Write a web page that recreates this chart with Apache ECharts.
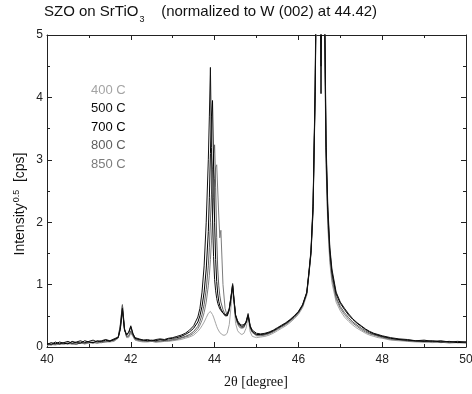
<!DOCTYPE html>
<html>
<head>
<meta charset="utf-8">
<script src="https://cdn.jsdelivr.net/npm/echarts@6/dist/echarts.min.js"></script>
<style>
html,body{margin:0;padding:0;background:#fff;}
#chart{width:472px;height:394px;}
</style>
</head>
<body>
<div id="chart"></div>
<script>
// 2theta positions (degree)
var twoTheta = [40.0,40.1,40.2,40.3,40.4,40.5,40.6,40.7,40.8,40.9,41.0,41.1,41.2,41.3,41.4,41.5,41.6,41.7,41.75,41.8,41.85,41.9,41.95,42.0,42.05,42.1,42.2,42.3,42.4,42.5,42.6,42.7,42.8,42.9,43.0,43.1,43.2,43.3,43.4,43.5,43.6,43.65,43.7,43.75,43.8,43.85,43.875,43.9,43.925,43.95,43.975,44.0,44.025,44.05,44.075,44.1,44.125,44.15,44.2,44.25,44.3,44.35,44.4,44.43,44.46,44.5,44.55,44.6,44.65,44.7,44.75,44.8,44.85,44.9,45.0,45.1,45.2,45.3,45.4,45.5,45.6,45.7,45.8,45.9,46.0,46.1,46.2,46.25,46.3,46.35,46.4,46.45,46.5,46.54,46.58,46.62,46.66,46.7,46.75,46.8,46.9,47.0,47.1,47.2,47.3,47.4,47.5,47.6,47.7,47.8,47.9,48.0,48.2,48.4,48.6,48.8,49.0,49.2,49.4,49.6,49.8,50.0];

// Intensity^0.5 for each annealing temperature
var i400 = [0.02,0.04,0.03,0.05,0.04,0.06,0.04,0.05,0.06,0.05,0.06,0.07,0.06,0.07,0.08,0.08,0.09,
  0.14,0.33,0.67,0.28,0.15,0.15,0.22,0.17,0.11,
  0.09,0.08,0.08,0.09,0.08,0.08,0.09,0.09,0.1,0.11,0.12,0.14,0.16,
  0.19,0.25,0.29,0.34,0.4,0.47,0.54,0.56,0.57,0.55,0.52,0.48,0.43,0.38,0.33,0.29,0.26,0.23,0.21,0.19,0.19,0.22,0.36,0.7,0.95,0.72,0.38,0.26,0.22,0.2,0.22,0.3,0.47,0.24,0.17,
  0.15,0.16,0.17,0.19,0.22,0.26,0.3,0.34,0.39,0.45,0.52,0.63,
  0.83,1.15,1.48,2.15,4.0,7.2,9,7,9,5.3,2.9,1.95,1.35,1.03,0.72,0.58,0.48,0.41,0.35,0.3,0.26,0.22,0.19,0.17,0.15,0.14,
  0.11,0.1,0.09,0.08,0.08,0.07,0.08,0.06,0.07,0.06];

var i500 = [0.06,0.04,0.08,0.05,0.07,0.09,0.06,0.08,0.1,0.07,0.09,0.11,0.08,0.1,0.12,0.1,0.13,
  0.16,0.3,0.62,0.28,0.2,0.24,0.34,0.22,0.15,
  0.13,0.11,0.12,0.1,0.12,0.13,0.12,0.14,0.15,0.17,0.19,0.22,0.27,
  0.34,0.48,0.62,0.88,1.3,2.0,3.0,3.7,4.48,3.2,2.1,1.45,1.08,0.9,0.78,0.7,0.65,0.61,0.58,0.54,0.52,0.53,0.62,0.85,1.0,0.78,0.52,0.42,0.37,0.35,0.36,0.4,0.52,0.34,0.27,
  0.22,0.21,0.22,0.24,0.27,0.31,0.35,0.39,0.44,0.5,0.57,0.68,
  0.88,1.2,1.55,2.3,4.2,8.0,11,6.5,11,6.0,3.3,2.3,1.6,1.25,0.88,0.72,0.62,0.53,0.45,0.39,0.34,0.29,0.25,0.22,0.2,0.18,
  0.15,0.13,0.12,0.1,0.11,0.09,0.1,0.08,0.09,0.08];

var i700 = [0.04,0.07,0.05,0.08,0.06,0.05,0.09,0.07,0.06,0.1,0.08,0.07,0.1,0.09,0.11,0.09,0.12,
  0.15,0.28,0.6,0.27,0.19,0.23,0.32,0.21,0.14,
  0.12,0.11,0.1,0.11,0.1,0.12,0.11,0.13,0.14,0.15,0.17,0.2,0.24,
  0.3,0.4,0.5,0.65,0.88,1.25,1.85,2.4,3.1,3.7,3.95,2.9,2.0,1.4,1.05,0.85,0.73,0.66,0.61,0.55,0.5,0.5,0.6,0.82,0.98,0.76,0.5,0.4,0.35,0.33,0.34,0.39,0.5,0.32,0.25,
  0.2,0.2,0.21,0.23,0.26,0.3,0.34,0.38,0.43,0.49,0.56,0.67,
  0.87,1.18,1.52,2.25,4.1,7.5,9,4.06,9,5.8,3.2,2.2,1.55,1.2,0.85,0.7,0.6,0.51,0.44,0.38,0.33,0.28,0.24,0.21,0.19,0.17,
  0.14,0.12,0.11,0.1,0.09,0.1,0.08,0.09,0.07,0.08];

var i800 = [0.05,0.03,0.06,0.04,0.07,0.05,0.06,0.04,0.07,0.06,0.08,0.06,0.09,0.07,0.09,0.1,0.11,
  0.16,0.36,0.68,0.3,0.17,0.18,0.26,0.19,0.13,
  0.11,0.1,0.09,0.1,0.09,0.1,0.1,0.11,0.12,0.13,0.15,0.17,0.2,
  0.25,0.33,0.41,0.52,0.68,0.92,1.3,1.6,2.0,2.45,2.85,3.1,3.24,2.55,1.75,1.25,0.98,0.82,0.72,0.6,0.52,0.5,0.6,0.85,1.02,0.8,0.5,0.38,0.33,0.31,0.32,0.4,0.54,0.32,0.24,
  0.19,0.19,0.2,0.22,0.25,0.29,0.33,0.37,0.42,0.48,0.55,0.66,
  0.86,1.17,1.5,2.2,4.0,7.2,8.5,4.5,8.5,5.6,3.1,2.1,1.48,1.15,0.8,0.65,0.55,0.47,0.4,0.35,0.3,0.26,0.22,0.2,0.18,0.16,
  0.13,0.12,0.1,0.09,0.1,0.08,0.09,0.07,0.08,0.07];

var i850 = [0.03,0.05,0.04,0.06,0.05,0.07,0.05,0.06,0.08,0.05,0.07,0.08,0.06,0.09,0.08,0.1,0.1,
  0.15,0.34,0.66,0.29,0.16,0.17,0.24,0.18,0.12,
  0.1,0.09,0.1,0.09,0.08,0.09,0.1,0.1,0.11,0.12,0.14,0.16,0.18,
  0.22,0.29,0.35,0.43,0.55,0.72,0.98,1.15,1.4,1.7,2.05,2.4,2.7,2.88,2.92,2.94,2.1,1.75,1.87,1.0,0.62,0.5,0.58,0.84,1.0,0.78,0.48,0.36,0.31,0.3,0.31,0.39,0.52,0.3,0.23,
  0.18,0.18,0.19,0.21,0.24,0.28,0.32,0.36,0.41,0.47,0.54,0.65,
  0.85,1.16,1.5,2.2,4.1,7.4,9.5,7,9.5,5.5,3.0,2.05,1.42,1.1,0.77,0.62,0.52,0.44,0.38,0.33,0.28,0.24,0.21,0.19,0.17,0.15,
  0.12,0.11,0.1,0.09,0.08,0.09,0.07,0.08,0.07,0.07];

var legendNames = ['400 C','500 C','700 C','800 C','850 C'];
var xTicks = [40,42,44,46,48,50];
var yTicks = [0,1,2,3,4,5];

var colors = {'400 C':'#a4a4a4','500 C':'#111111','700 C':'#000000','800 C':'#5e5e5e','850 C':'#7c7c7c'};
var seriesData = {'400 C':i400,'500 C':i500,'700 C':i700,'800 C':i800,'850 C':i850};
var drawOrder = ['400 C','850 C','800 C','700 C','500 C'];

function pairs(ys){ return twoTheta.map(function(x,i){ return [x, ys[i]]; }); }

var chart = echarts.init(document.getElementById('chart'), null, {renderer:'canvas'});
var axisLineStyle = {color:'#222', width:1};
var tickCommon = {show:true, inside:true, length:5, lineStyle:{color:'#222', width:1}};
var minorCommon = {show:true, splitNumber:2, length:3, lineStyle:{color:'#222', width:1}};
var SANS = '"Liberation Sans", Arial, sans-serif';

var option = {
  animation:false,
  backgroundColor:'#fff',
  grid:{left:47, right:6, top:35, bottom:47, containLabel:false, outerBoundsMode:'none'},
  title:{
    text:'{a|SZO on SrTiO}{s|3}{a|    (normalized to W (002) at 44.42)}',
    left:44, top:4, padding:0,
    textStyle:{fontWeight:'normal', rich:{
      a:{fontFamily:SANS, fontWeight:'normal', fontSize:15, color:'#111', lineHeight:20, verticalAlign:'top'},
      s:{fontFamily:SANS, fontWeight:'normal', fontSize:9, color:'#111', lineHeight:10, verticalAlign:'bottom', padding:[17,0,0,1]}
    }}
  },
  legend:{
    orient:'vertical', left:81, top:78, itemWidth:0, itemHeight:14, itemGap:5, icon:'none',
    data:legendNames.map(function(n){ return {name:n, textStyle:{color:colors[n]}}; }),
    textStyle:{fontFamily:SANS, fontSize:13}
  },
  xAxis:[{
    type:'value', min:xTicks[0], max:xTicks[xTicks.length-1], interval:2, position:'bottom',
    axisLine:{show:true, onZero:false, lineStyle:axisLineStyle},
    axisTick:tickCommon, minorTick:minorCommon,
    splitLine:{show:false},
    axisLabel:{fontFamily:SANS, fontSize:12, color:'#222', margin:7}
  },{
    type:'value', min:xTicks[0], max:xTicks[xTicks.length-1], interval:2, position:'top',
    axisLine:{show:true, onZero:false, lineStyle:axisLineStyle},
    axisTick:tickCommon, minorTick:minorCommon,
    splitLine:{show:false}, axisLabel:{show:false}
  }],
  yAxis:[{
    type:'value', min:yTicks[0], max:yTicks[yTicks.length-1], interval:1, position:'left',
    axisLine:{show:true, onZero:false, lineStyle:axisLineStyle},
    axisTick:tickCommon, minorTick:minorCommon,
    splitLine:{show:false},
    axisLabel:{fontFamily:SANS, fontSize:12, color:'#222', margin:4}
  },{
    type:'value', min:yTicks[0], max:yTicks[yTicks.length-1], interval:1, position:'right',
    axisLine:{show:true, onZero:false, lineStyle:axisLineStyle},
    axisTick:tickCommon, minorTick:minorCommon,
    splitLine:{show:false}, axisLabel:{show:false}
  }],
  graphic:[{
    type:'text', x:256, y:382,
    style:{text:'2\u03b8 [degree]', font:'14px "Liberation Serif", "Times New Roman", serif', fill:'#111', align:'center', verticalAlign:'middle'}
  },{
    type:'text', x:20, y:204, rotation:Math.PI/2,
    style:{
      text:'{a|Intensity}{s|0.5}{a|  [cps]}',
      align:'center', verticalAlign:'middle',
      rich:{
        a:{fontFamily:SANS, fontSize:14, fill:'#111', lineHeight:15, verticalAlign:'bottom'},
        s:{fontFamily:SANS, fontSize:9, fill:'#111', lineHeight:9, verticalAlign:'top', padding:[0,0,0,1]}
      }
    }
  }],
  series:drawOrder.map(function(n){
    return {
      name:n, type:'line', xAxisIndex:0, yAxisIndex:0,
      data:pairs(seriesData[n]), showSymbol:false, symbol:'none',
      clip:true, lineStyle:{color:colors[n], width:1}, itemStyle:{color:colors[n]},
      emphasis:{disabled:true}
    };
  })
};
chart.setOption(option);
</script>
</body>
</html>
